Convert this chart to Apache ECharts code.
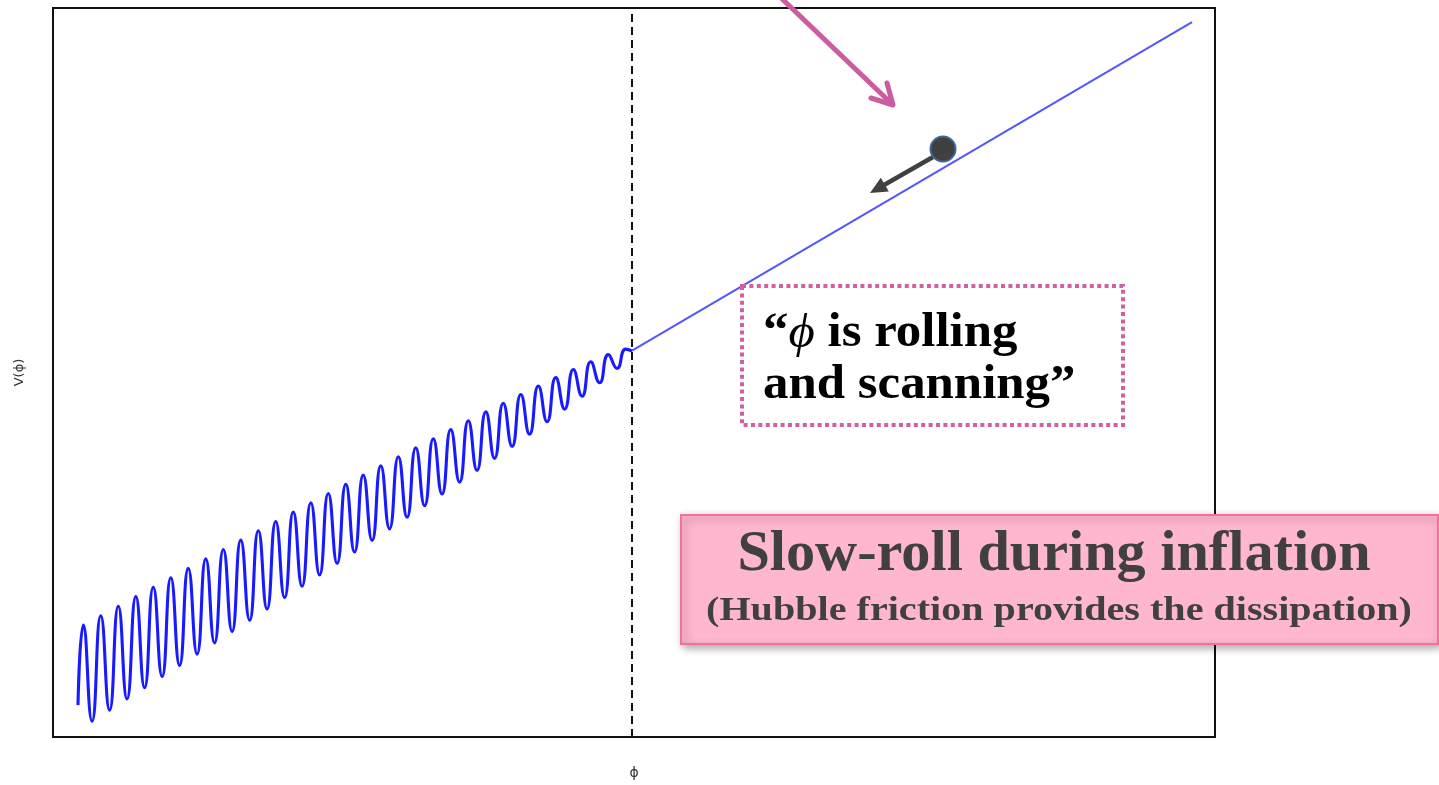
<!DOCTYPE html>
<html>
<head>
<meta charset="utf-8">
<style>
html, body { margin: 0; padding: 0; background: #fff; }
#chart { width: 1439px; height: 785px; }
</style>
<script src="https://cdn.jsdelivr.net/npm/echarts@6/dist/echarts.min.js"></script>
</head>
<body>
<div id="chart"></div>
<script>
// potential V(phi): oscillating part (peaks / troughs) then the slow-roll slope
var startPoint = [2.15, 4.37];
var peakPhi = [2.61, 4.11, 5.62, 7.13, 8.63, 10.14, 11.64, 13.15, 14.66, 16.16, 17.67, 19.17, 20.68, 22.19, 23.69, 25.20,
    26.70, 28.21, 29.72, 31.22, 32.73, 34.23, 35.74, 37.25, 38.75, 40.26, 41.77, 43.27, 44.78, 46.28, 47.79, 49.29];
var peakV = [15.34, 16.64, 17.94, 19.26, 20.54, 21.84, 23.13, 24.43, 25.73, 27.00, 28.29, 29.57, 30.86, 32.13, 33.40, 34.66,
    35.92, 37.19, 38.44, 39.68, 40.92, 42.16, 43.38, 44.60, 45.79, 46.98, 48.15, 49.30, 50.41, 51.47, 52.45, 53.21];
var troughPhi = [3.36, 4.87, 6.37, 7.88, 9.39, 10.89, 12.40, 13.90, 15.41, 16.92, 18.42, 19.93, 21.43, 22.94, 24.45, 25.95,
    27.46, 28.96, 30.47, 31.98, 33.48, 34.99, 36.49, 38.00, 39.51, 41.01, 42.52, 44.03, 45.53, 47.04, 48.54];
var troughV = [2.16, 3.69, 5.22, 6.76, 8.30, 9.83, 11.37, 12.91, 14.46, 16.01, 17.55, 19.11, 20.67, 22.24, 23.81, 25.37,
    26.96, 28.55, 30.14, 31.73, 33.33, 34.96, 36.57, 38.22, 39.87, 41.54, 43.25, 44.98, 46.74, 48.59, 50.57];
var endPoint = [49.83, 52.95];
var slopePhi = [49.83, 98.02];
var slopeV = [53.01, 98.07];
var dividerPhi = 49.83;

var wiggle = [startPoint];
for (var i = 0; i < peakPhi.length; i++) {
    wiggle.push([peakPhi[i], peakV[i]]);
    if (i < troughPhi.length) wiggle.push([troughPhi[i], troughV[i]]);
}
wiggle.push(endPoint);

var slope = slopePhi.map(function (p, i) { return [p, slopeV[i]]; });

var myChart = echarts.init(document.getElementById('chart'));

var serif = '"Liberation Serif", "DejaVu Serif", serif';
var pink = '#cc5ca0';

var option = {
    animation: false,
    grid: {
        left: 53, right: 224, top: 8, bottom: 45,
        show: true, borderColor: '#111', borderWidth: 2
    },
    xAxis: {
        type: 'value', min: 0, max: 100,
        name: 'ϕ', nameLocation: 'middle', nameGap: 29,
        nameTextStyle: { fontSize: 14, color: '#333', fontFamily: 'DejaVu Sans' },
        axisLine: { show: false }, axisTick: { show: false },
        axisLabel: { show: false }, splitLine: { show: false }
    },
    yAxis: {
        type: 'value', min: 0, max: 100,
        name: 'V(ϕ)', nameLocation: 'middle', nameGap: 27,
        nameTextStyle: { fontSize: 13, color: '#333', fontFamily: 'DejaVu Sans' },
        axisLine: { show: false }, axisTick: { show: false },
        axisLabel: { show: false }, splitLine: { show: false }
    },
    series: [
        {
            type: 'line',
            data: wiggle,
            smooth: 0.55,
            showSymbol: false,
            lineStyle: { color: '#1a1aff', width: 3.1 },
            markLine: {
                silent: true,
                symbol: 'none',
                label: { show: false },
                lineStyle: { color: '#111', type: [8, 5], width: 2 },
                data: [{ xAxis: dividerPhi }]
            }
        },
        {
            type: 'line',
            data: slope,
            showSymbol: false,
            lineStyle: { color: '#5555ff', width: 2 }
        }
    ],
    graphic: [
        // pink arrow coming from above
        {
            type: 'polyline', z: 10,
            shape: { points: [[777, -6], [892, 104]] },
            style: { stroke: pink, lineWidth: 5, lineCap: 'round', fill: null }
        },
        {
            type: 'polyline', z: 10,
            shape: { points: [[871, 98], [893, 105], [887, 83]] },
            style: { stroke: pink, lineWidth: 5, lineCap: 'round', lineJoin: 'round', fill: null }
        },
        // rolling ball and its arrow
        {
            type: 'polyline', z: 10,
            shape: { points: [[933, 157], [884, 185]] },
            style: { stroke: '#404040', lineWidth: 4.5, fill: null }
        },
        {
            type: 'polygon', z: 10,
            shape: { points: [[870, 193], [888.8, 191.5], [880.8, 177.7]] },
            style: { fill: '#404040' }
        },
        {
            type: 'circle', z: 11,
            shape: { cx: 943, cy: 149, r: 12.5 },
            style: { fill: '#404040', stroke: '#3a6a9a', lineWidth: 2 }
        },
        // dotted quote box
        {
            type: 'rect', z: 10,
            shape: { x: 742, y: 286, width: 381, height: 139 },
            style: { fill: '#fff', stroke: '#d060a0', lineWidth: 4, lineDash: [4, 3.4] }
        },
        {
            type: 'text', z: 11, x: 763, y: 334, scaleX: 1.06,
            style: {
                text: '{q|“}{p|ϕ}{q| is rolling}',
                verticalAlign: 'middle',
                rich: {
                    q: { fontFamily: serif, fontWeight: 'bold', fontSize: 48, fill: '#000' },
                    p: { fontFamily: serif, fontStyle: 'italic', fontSize: 48, fill: '#000' }
                }
            }
        },
        {
            type: 'text', z: 11, x: 763, y: 386, scaleX: 1.06,
            style: {
                text: 'and scanning”', fontFamily: serif, fontWeight: 'bold', fontSize: 48,
                fill: '#000', verticalAlign: 'middle'
            }
        },
        // pink caption box
        {
            type: 'rect', z: 12,
            shape: { x: 681, y: 515, width: 757, height: 129 },
            style: {
                fill: '#ffb6cf', stroke: '#f27099', lineWidth: 2,
                shadowBlur: 8, shadowColor: 'rgba(0,0,0,0.35)', shadowOffsetX: 3, shadowOffsetY: 3
            }
        },
        {
            type: 'text', z: 13, x: 1054, y: 556, scaleX: 1.04,
            style: {
                text: 'Slow-roll during inflation', fontFamily: serif, fontWeight: 'bold', fontSize: 56,
                fill: '#404040', align: 'center', verticalAlign: 'middle'
            }
        },
        {
            type: 'text', z: 13, x: 1059, y: 611, scaleX: 1.18,
            style: {
                text: '(Hubble friction provides the dissipation)', fontFamily: serif, fontWeight: 'bold', fontSize: 34,
                fill: '#404040', align: 'center', verticalAlign: 'middle'
            }
        }
    ]
};

myChart.setOption(option);
</script>
</body>
</html>
